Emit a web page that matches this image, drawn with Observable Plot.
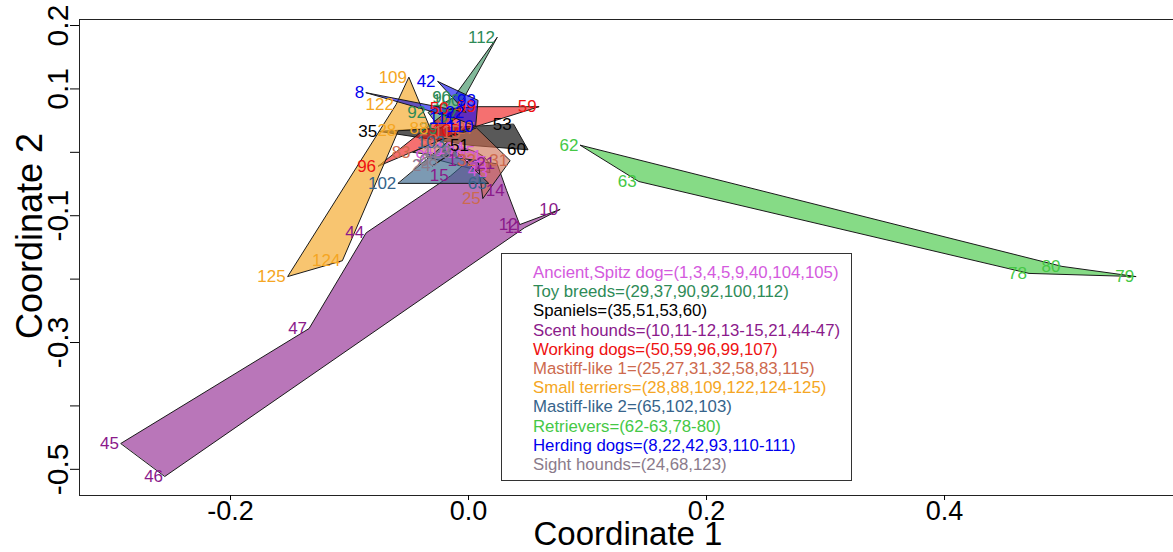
<!DOCTYPE html>
<html><head><meta charset="utf-8">
<script src="https://cdn.jsdelivr.net/npm/d3@7"></script>
<script src="https://cdn.jsdelivr.net/npm/@observablehq/plot@0.6"></script>
<style>
body{margin:0;background:#fff;font-family:"Liberation Sans",Arial,sans-serif;}
#wrap{position:relative;width:1173px;height:552px;overflow:hidden;}
#legend{position:absolute;left:501px;top:253px;width:351px;height:228px;border:1px solid #333;box-sizing:border-box;padding:9px 0 0 31px;font-size:16.8px;line-height:19.2px;background:#fff;white-space:nowrap;}
.xl{position:absolute;left:628px;top:534px;transform:translate(-50%,-50%);font-size:33px;white-space:nowrap;}
.yl{position:absolute;left:30px;top:236px;transform:translate(-50%,-50%) rotate(-90deg);font-size:36px;white-space:nowrap;}
</style></head>
<body><div id="wrap"></div>
<script>
// ---- data ----
const groupNames = ["Ancient,Spitz dog","Toy breeds","Spaniels","Scent hounds","Working dogs","Mastiff-like 1","Small terriers","Mastiff-like 2","Retrievers","Herding dogs","Sight hounds"];
const groupMembers = ["(1,3,4,5,9,40,104,105)","(29,37,90,92,100,112)","(35,51,53,60)","(10,11-12,13-15,21,44-47)","(50,59,96,99,107)","(25,27,31,32,58,83,115)","(28,88,109,122,124-125)","(65,102,103)","(62-63,78-80)","(8,22,42,93,110-111)","(24,68,123)"];
// dog ids of each group, in outline order
const groupOutlines = [
  [9,40,104,105,1,5,3,4],
  [112,100,37,29,92,90],
  [35,51,60,53],
  [45,47,44,15,13,21,14,12,10,11,46],
  [59,99,50,96,107],
  [27,31,25,32,83,58,115],
  [109,88,28,124,125,122],
  [102,65,103],
  [62,63,78,79,80],
  [8,22,42,93,110,111],
  [24,68,123]
];
const dogId  = [9,40,104,105,1,5,3,4, 112,100,37,29,92,90, 35,51,60,53, 45,47,44,15,13,21,14,12,10,11,46, 59,99,50,96,107, 27,31,25,32,83,58,115, 109,88,28,124,125,122, 102,65,103, 62,63,78,79,80, 8,22,42,93,110,111, 24,68,123];
const coord1 = [-0.035,-0.020,-0.002,0.007,0.013,0.017,0.018,0.009, 0.024,-0.005,-0.008,-0.024,-0.034,-0.013, -0.075,0.002,0.050,0.038, -0.292,-0.134,-0.086,-0.015,0.000,0.024,0.032,0.043,0.077,0.047,-0.255, 0.059,0.008,-0.015,-0.076,-0.005, 0.007,0.035,0.012,0.008,-0.047,-0.024,-0.005, -0.050,-0.032,-0.059,-0.106,-0.152,-0.061, -0.059,0.017,-0.018, 0.094,0.143,0.471,0.561,0.499, -0.086,-0.002,-0.026,0.008,0.006,-0.010, -0.030,-0.024,-0.013];
const coord2 = [-0.007,0.003,0.006,0.000,-0.007,-0.016,-0.032,-0.029, 0.181,0.082,0.056,0.038,0.063,0.086, 0.033,0.011,0.004,0.044, -0.459,-0.278,-0.127,-0.037,-0.013,-0.018,-0.060,-0.114,-0.090,-0.119,-0.511, 0.072,0.072,0.069,-0.022,0.034, 0.038,-0.013,-0.073,-0.013,0.000,0.019,0.031, 0.118,0.037,0.034,-0.171,-0.196,0.075, -0.049,-0.049,0.015, 0.011,-0.046,-0.191,-0.196,-0.180, 0.094,0.063,0.112,0.082,0.041,0.053, -0.021,-0.013,0.000];
const xTicks = [-0.2,0.0,0.2,0.4];
const yTicks = [0.2,0.1,0.0,-0.1,-0.2,-0.3,-0.4,-0.5];
const yTickLabelled = [0.2,0.1,-0.1,-0.3,-0.5];

// ---- styles ----
const groupColors = ["#D45ADE","#2E8B57","#000000","#8B1A8B","#EE1111","#CD6A4E","#F5A623","#36648B","#45C845","#0000EE","#8B7B8B"];
const fillOpacity = [0.6,0.6,0.65,0.6,0.6,0.6,0.65,0.65,0.65,0.6,0.6];

const pos = new Map(dogId.map((id,i)=>[id,[coord1[i],coord2[i]]]));
const marks = [];
groupOutlines.forEach((ids,g)=>{
  const rows = ids.map(id=>({x:pos.get(id)[0], y:pos.get(id)[1]}));
  marks.push(Plot.line(rows,{x:"x",y:"y",fill:groupColors[g],fillOpacity:fillOpacity[g],stroke:"#1a1a1a",strokeWidth:1,curve:"linear-closed"}));
});
const labels = [];
groupOutlines.forEach((ids,g)=>ids.forEach(id=>labels.push({x:pos.get(id)[0],y:pos.get(id)[1],id:String(id),c:groupColors[g]})));
marks.push(Plot.text(labels,{x:"x",y:"y",text:"id",fill:"c",textAnchor:"end",dx:-2,fontSize:17}));

const xDom=[-0.3269,0.5924], yDom=[-0.5413,0.2095];
const chart = Plot.plot({
  width:1173,height:552,marginLeft:79,marginRight:0,marginTop:19,marginBottom:57,
  style:{fontFamily:"'Liberation Sans',Arial,sans-serif",background:"#fff",color:"#000"},
  x:{domain:xDom},y:{domain:yDom},color:{type:"identity"},
  marks:[
    ...marks,
    Plot.ruleX([xDom[0]],{stroke:"#222"}),
    Plot.ruleY([yDom[0],yDom[1]],{stroke:"#222"}),
    Plot.axisX({ticks:xTicks,tickFormat:d=>d.toFixed(1),tickSize:5,tickPadding:0,fontSize:27,label:null}),
    Plot.axisY({ticks:yTicks,tickFormat:d=>yTickLabelled.some(t=>Math.abs(t-d)<1e-9)?d.toFixed(1):"",tickSize:9,tickPadding:3,tickRotate:-90,fontSize:30,label:null})
  ]
});
const wrap=document.getElementById("wrap");
wrap.appendChild(chart);
const lg=document.createElement("div");lg.id="legend";
groupNames.forEach((n,i)=>{const d=document.createElement("div");d.textContent=n+"="+groupMembers[i];d.style.color=groupColors[i];lg.appendChild(d);});
wrap.appendChild(lg);
const xl=document.createElement("div");xl.className="xl";xl.textContent="Coordinate 1";wrap.appendChild(xl);
const yl=document.createElement("div");yl.className="yl";yl.textContent="Coordinate 2";wrap.appendChild(yl);
</script></body></html>
